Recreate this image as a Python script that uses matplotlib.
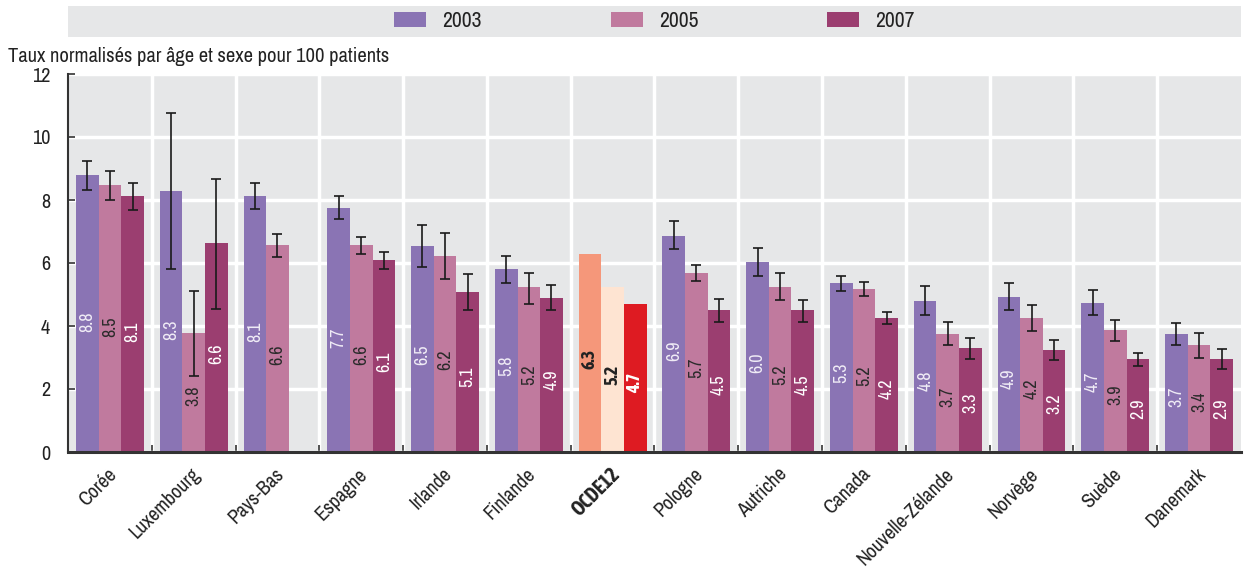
import numpy as np
import matplotlib
matplotlib.use("Agg")
import matplotlib.pyplot as plt
from matplotlib.patches import Patch, Rectangle
import matplotlib.transforms as mtransforms

plt.rcParams['font.family'] = ['Archivo Narrow', 'Liberation Sans', 'DejaVu Sans']
BOLD_FAMILY = ['Asap Condensed', 'Liberation Sans', 'DejaVu Sans']

countries = ["Corée", "Luxembourg", "Pays-Bas", "Espagne", "Irlande", "Finlande", "OCDE12",
             "Pologne", "Autriche", "Canada", "Nouvelle-Zélande", "Norvège", "Suède", "Danemark"]
years = ["2003", "2005", "2007"]

v2003 = [8.79, 8.29, 8.13, 7.75, 6.54, 5.81, 6.29, 6.86, 6.03, 5.37, 4.79, 4.92, 4.73, 3.75]
v2005 = [8.48, 3.78, 6.57, 6.57, 6.22, 5.24, 5.24, 5.68, 5.24, 5.17, 3.75, 4.25, 3.87, 3.40]
v2007 = [8.13, 6.63, np.nan, 6.10, 5.08, 4.89, 4.70, 4.51, 4.51, 4.25, 3.30, 3.24, 2.95, 2.95]

lab2003 = ["8.8", "8.3", "8.1", "7.7", "6.5", "5.8", "6.3", "6.9", "6.0", "5.3", "4.8", "4.9", "4.7", "3.7"]
lab2005 = ["8.5", "3.8", "6.6", "6.6", "6.2", "5.2", "5.2", "5.7", "5.2", "5.2", "3.7", "4.2", "3.9", "3.4"]
lab2007 = ["8.1", "6.6", "", "6.1", "5.1", "4.9", "4.7", "4.5", "4.5", "4.2", "3.3", "3.2", "2.9", "2.9"]

lo2003 = [8.31, 5.80, 7.70, 7.39, 5.86, 5.36, np.nan, 6.43, 5.58, 5.10, 4.34, 4.50, 4.34, 3.39]
hi2003 = [9.25, 10.75, 8.55, 8.12, 7.22, 6.23, np.nan, 7.33, 6.47, 5.58, 5.26, 5.35, 5.13, 4.09]
lo2005 = [7.99, 2.40, 6.18, 6.27, 5.48, 4.69, np.nan, 5.42, 4.82, 4.94, 3.39, 3.83, 3.51, 2.97]
hi2005 = [8.93, 5.12, 6.93, 6.84, 6.94, 5.69, np.nan, 5.95, 5.67, 5.41, 4.12, 4.66, 4.18, 3.77]
lo2007 = [7.67, 4.53, np.nan, 5.80, 4.50, 4.50, np.nan, 4.12, 4.13, 4.05, 2.94, 2.91, 2.72, 2.63]
hi2007 = [8.55, 8.68, np.nan, 6.34, 5.64, 5.29, np.nan, 4.87, 4.84, 4.43, 3.61, 3.55, 3.13, 3.26]

ylabel = "Taux normalisés par âge et sexe pour 100 patients"
highlight = "OCDE12"

colors = ["#8a74b4", "#c07a9e", "#9b3e70"]
hl_colors = ["#f5977a", "#fee4d2", "#de1b22"]
label_colors = ["#f0ecf6", "#2b2b2b", "#ffffff"]
hl_label_colors = ["#222222", "#222222", "#ffffff"]
bg = "#e6e7e8"

series = [np.array(v2003), np.array(v2005), np.array(v2007)]
labels = [lab2003, lab2005, lab2007]
lows = [np.array(lo2003), np.array(lo2005), np.array(lo2007)]
highs = [np.array(hi2003), np.array(hi2005), np.array(hi2007)]

W, H = 1254, 568
fig = plt.figure(figsize=(W / 100, H / 100), dpi=100)
ax = fig.add_axes([68 / W, 1 - 452 / H, (1241 - 68) / W, (452 - 74) / H])
ax.set_facecolor(bg)

n = len(countries)
x = np.arange(n)
bw = 0.27
hi_idx = countries.index(highlight)

for k in range(3):
    xs = x + (k - 1) * bw
    cols = [hl_colors[k] if i == hi_idx else colors[k] for i in range(n)]
    ax.bar(xs, series[k], width=bw, color=cols, zorder=3, linewidth=0)
    v = series[k]
    err = np.vstack([v - lows[k], highs[k] - v])
    ax.errorbar(xs, v, yerr=err, fmt='none', ecolor='#1a1a1a', elinewidth=1.2,
                capsize=3.8, capthick=1.2, zorder=4)
    for i in range(n):
        if not labels[k][i] or np.isnan(v[i]):
            continue
        hl = i == hi_idx
        if hl:
            ax.text(xs[i], v[i] * 0.47, labels[k][i], rotation=90, ha='center', va='center',
                    fontsize=13, color=hl_label_colors[k], family=BOLD_FAMILY,
                    fontweight='bold', zorder=5)
        else:
            ax.text(xs[i], v[i] * 0.47, labels[k][i], rotation=90, ha='center', va='center',
                    fontsize=13, color=label_colors[k], zorder=5)

ax.set_xlim(-0.5, n - 0.5)
ax.set_ylim(0, 12)
ax.set_yticks(np.arange(0, 13, 2))
ax.yaxis.grid(True, color='white', lw=2.5, zorder=1)
for b in np.arange(0.5, n - 0.5, 1):
    ax.axvline(b, color='white', lw=2.5, zorder=1)
ax.set_xticks(np.arange(0.5, n - 0.5, 1), minor=True)
ax.tick_params(axis='x', which='minor', direction='in', length=5, width=1.2, color='#333333')
ax.tick_params(axis='y', direction='in', length=5, width=1.2, color='#333333', pad=13,
               labelsize=14.5, labelcolor='#222222')
ax.set_xticks(x)
ax.set_xticklabels(countries)
ax.tick_params(axis='x', which='major', length=0, pad=9, labelsize=14.3, labelcolor='#222222')
offset = mtransforms.ScaledTranslation(-3 / 100, 0, fig.dpi_scale_trans)
for lab in ax.get_xticklabels():
    lab.set_rotation(45)
    lab.set_ha('right')
    lab.set_va('top')
    lab.set_rotation_mode('anchor')
    lab.set_transform(lab.get_transform() + offset)
    if lab.get_text() == highlight:
        lab.set_fontfamily(BOLD_FAMILY)
        lab.set_fontweight('bold')

for s in ['top', 'right']:
    ax.spines[s].set_visible(False)
ax.spines['left'].set_color('#333333')
ax.spines['left'].set_linewidth(1.5)
ax.spines['bottom'].set_color('#333333')
ax.spines['bottom'].set_linewidth(2.2)
ax.spines['left'].set_zorder(6)
ax.spines['bottom'].set_zorder(6)

fig.text(8 / W, 1 - 62 / H, ylabel, fontsize=14.8, color='#222222', va='baseline', ha='left')

fig.patches.append(Rectangle((68 / W, 1 - 36.5 / H), (1241 - 68) / W, 30.5 / H,
                             transform=fig.transFigure, facecolor=bg, edgecolor='none', zorder=0))
handles = [Patch(facecolor=c, edgecolor='none') for c in colors]
fig.legend(handles, years, loc='center', bbox_to_anchor=((68 + 1241) / 2 / W, 1 - 21 / H),
           ncol=3, frameon=False, fontsize=15.5, handlelength=1.5, handleheight=0.75,
           handletextpad=0.75, columnspacing=5.97, labelcolor='#222222')

fig.savefig("out.png", dpi=100)
